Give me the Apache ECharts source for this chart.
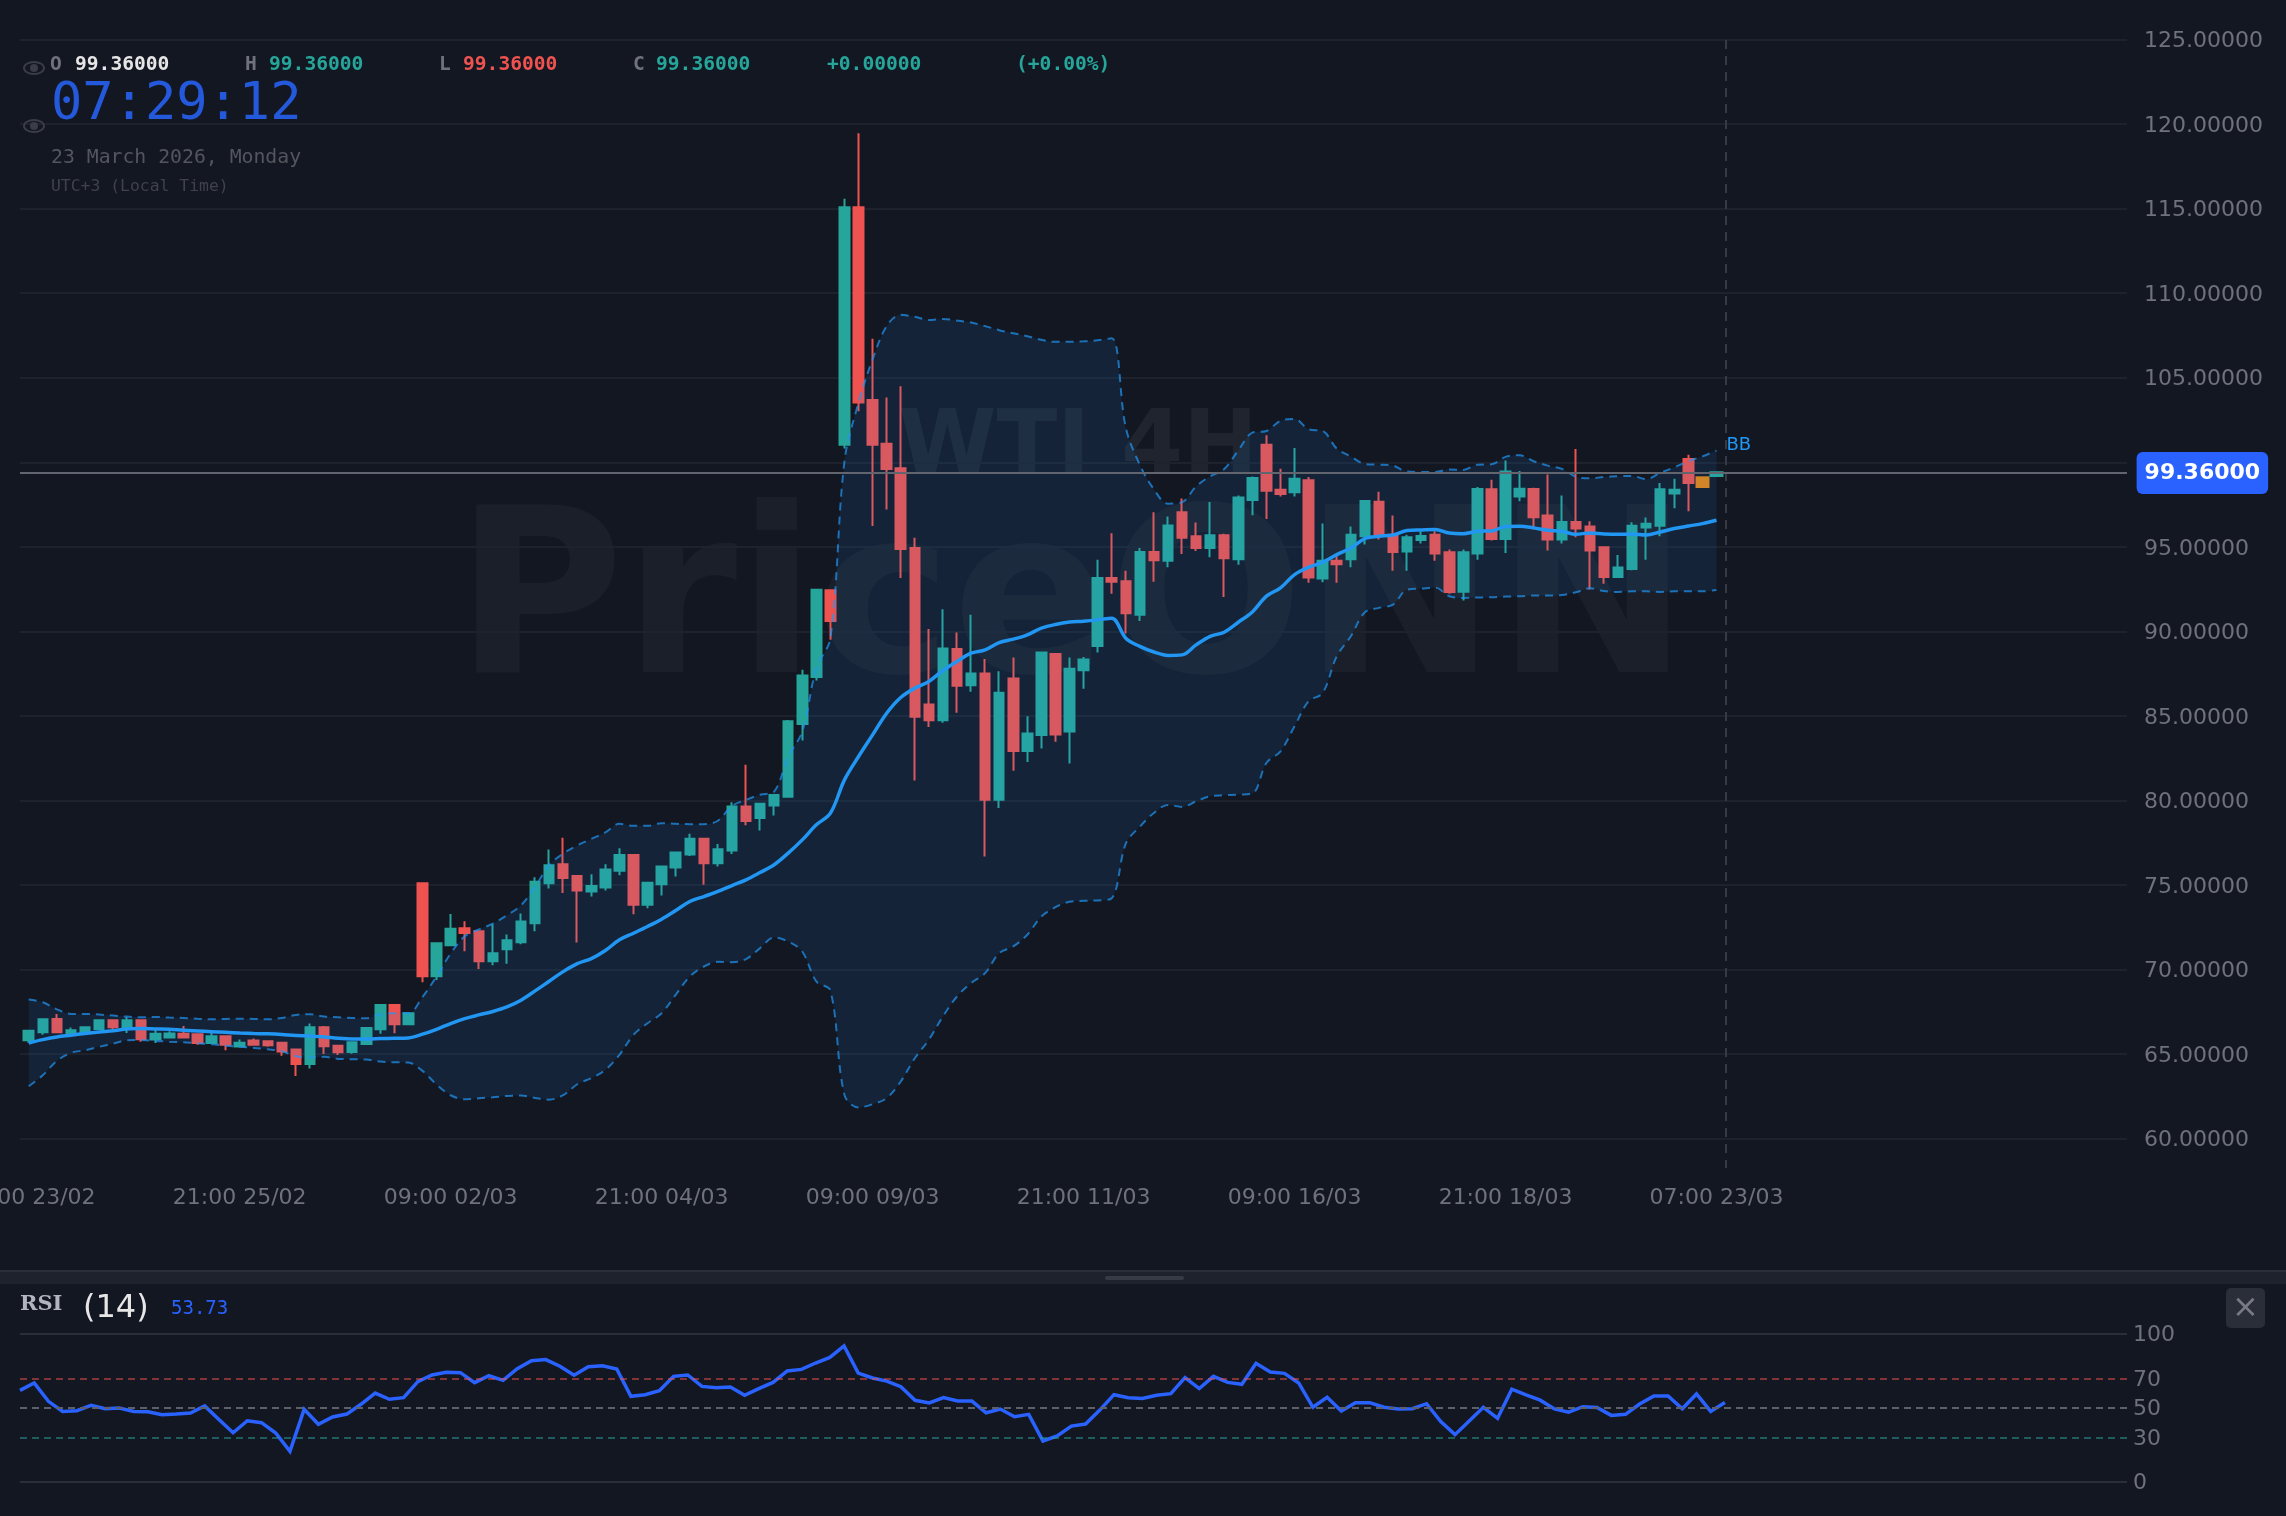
<!DOCTYPE html>
<html>
<head>
<meta charset="utf-8">
<title>WTI 4H</title>
<style>
html, body { margin: 0; padding: 0; background: #131722; }
#chart { width: 2286px; height: 1516px; }
</style>
<script src="https://cdn.jsdelivr.net/npm/echarts@6/dist/echarts.min.js"></script>
</head>
<body>
<div id="chart"></div>
<script>
var tickLabels = ['09:00 23/02','21:00 25/02','09:00 02/03','21:00 04/03','09:00 09/03','21:00 11/03','09:00 16/03','21:00 18/03','07:00 23/03'];

var candleOpen = [
  65.82,66.29,67.08,66.16,66.29,66.49,67.0,66.61,67.0,65.86,
  65.98,66.2,66.18,65.66,66.06,65.45,65.8,65.76,65.68,65.27,
  64.42,66.59,65.49,65.13,65.6,66.47,67.91,66.77,75.1,69.6,
  71.44,72.44,72.27,70.49,71.2,71.62,72.74,75.1,76.23,75.54,
  74.62,74.86,75.84,76.77,73.83,75.05,76.04,76.81,77.73,76.29,
  77.04,79.65,78.96,79.7,80.22,84.53,87.3,92.43,101.03,115.08,
  103.68,101.09,99.64,94.93,85.68,84.74,88.96,86.82,87.51,80.04,
  87.21,82.93,83.87,88.66,84.08,87.7,89.14,93.15,92.97,90.98,
  94.69,94.18,97.04,95.63,94.93,95.69,94.27,97.77,101.03,98.37,
  98.22,98.94,93.12,94.18,94.27,95.63,97.67,95.72,94.72,95.41,
  95.72,94.68,92.35,94.6,98.4,95.47,97.97,98.42,96.85,95.43,
  96.47,96.2,94.97,93.22,93.69,96.14,96.25,98.15,100.2,99.17,99.13];
var candleClose = [
  66.39,67.06,66.29,66.41,66.59,67.0,66.59,67.0,65.88,66.2,
  66.22,65.98,65.66,66.06,65.56,65.68,65.56,65.53,65.15,64.42,
  66.59,65.47,65.11,65.7,66.55,67.91,66.77,67.42,69.6,71.56,
  72.42,72.17,70.49,70.97,71.73,72.84,75.2,76.17,75.42,74.67,
  74.94,75.92,76.77,73.83,75.13,76.1,76.92,77.73,76.29,77.12,
  79.65,78.78,79.8,80.32,84.69,87.39,92.46,90.62,115.08,103.53,
  101.03,99.6,94.87,84.95,84.74,88.99,86.79,87.51,80.04,86.37,
  82.93,83.96,88.75,83.9,87.79,88.33,93.15,92.94,91.07,94.69,
  94.21,96.26,95.54,94.93,95.69,94.33,97.92,99.07,98.31,98.13,
  99.03,93.18,94.18,93.97,95.72,97.71,95.68,94.7,95.56,95.64,
  94.6,92.33,94.68,98.42,95.47,99.45,98.44,96.75,95.43,96.47,
  96.08,94.78,93.22,93.77,96.25,96.37,98.4,98.38,98.78,98.48,99.47];
var candleLow = [
  65.66,66.14,66.23,66.14,66.25,66.45,66.49,66.25,65.74,65.66,
  65.96,65.96,65.56,65.6,65.23,65.43,65.54,65.43,64.9,63.71,
  64.15,65.01,64.95,65.03,65.58,66.2,66.23,66.75,69.25,69.39,
  71.4,71.08,70.04,70.26,70.34,71.5,72.27,74.8,74.53,71.6,
  74.32,74.68,75.58,73.28,73.63,74.38,75.5,76.71,75.01,76.1,
  76.83,78.54,78.23,79.11,80.2,83.55,87.09,89.5,100.81,103.02,
  96.23,97.2,93.15,81.18,84.35,84.59,85.19,86.43,76.69,79.55,
  81.76,82.27,83.08,83.47,82.18,86.61,88.75,92.22,89.87,90.62,
  92.94,93.79,94.57,94.75,94.39,92.04,93.94,96.86,96.65,97.98,
  97.98,92.88,92.91,92.88,93.79,95.14,95.43,93.59,93.59,95.19,
  94.17,92.23,91.82,94.24,95.37,94.64,97.69,96.02,94.78,95.19,
  95.56,92.47,92.81,93.2,93.61,94.24,95.62,97.28,97.1,98.48,99.13];
var candleHigh = [
  66.39,67.06,67.38,66.57,66.6,67.05,67.02,67.2,67.02,66.51,
  66.35,66.67,66.2,66.31,66.1,65.86,65.92,65.78,65.74,65.29,
  66.81,66.67,65.51,65.74,66.57,67.93,67.93,67.47,75.1,71.6,
  73.29,72.86,72.3,72.68,72.07,73.31,75.46,77.1,77.8,75.56,
  75.64,76.23,77.18,76.8,75.15,76.13,76.95,78.03,77.75,77.42,
  79.9,82.11,79.85,80.36,84.76,87.73,92.52,92.46,115.59,119.45,
  107.3,103.83,104.49,95.54,90.14,91.31,89.93,90.98,88.36,87.64,
  88.45,84.98,88.78,88.69,88.45,88.48,94.24,95.81,93.58,94.93,
  97.04,96.8,97.86,96.44,97.65,95.78,98.04,99.16,101.6,99.61,
  100.84,99.13,96.38,94.48,96.2,97.77,98.25,96.85,95.72,95.92,
  95.92,94.84,94.84,98.54,98.97,100.1,99.49,98.5,99.27,98.03,
  100.79,96.51,95.03,94.52,96.45,96.73,98.78,99.03,100.45,99.17,99.47];

var bbUpper = [
  68.23,68.07,67.65,67.38,67.38,67.34,67.28,67.22,67.18,67.2,
  67.16,67.14,67.1,67.06,67.08,67.1,67.08,67.06,67.14,67.32,
  67.36,67.22,67.18,67.14,67.12,67.36,67.42,67.42,68.38,69.6,
  70.95,71.97,72.37,72.72,73.21,73.8,74.89,76.17,76.86,77.34,
  77.73,78.11,78.62,78.5,78.5,78.66,78.62,78.6,78.6,78.8,
  79.68,80.04,80.34,80.53,82.6,84.08,87.83,89.6,100.06,103.53,
  106.09,108.05,108.72,108.6,108.41,108.47,108.38,108.26,108.05,107.81,
  107.63,107.45,107.24,107.12,107.12,107.15,107.21,107.33,102.05,99.85,
  98.4,97.55,97.64,98.57,99.17,99.6,100.7,101.75,101.85,102.45,
  102.56,101.95,101.85,100.81,100.34,99.9,99.86,99.8,99.45,99.43,
  99.43,99.57,99.55,99.86,99.88,100.32,100.41,100.06,99.8,99.61,
  99.15,99.05,99.13,99.17,99.19,99.0,99.37,99.7,100.06,100.35,100.69];
var bbMiddle = [
  65.66,65.86,66.02,66.12,66.22,66.31,66.39,66.49,66.51,66.49,
  66.47,66.41,66.37,66.33,66.29,66.25,66.22,66.2,66.16,66.1,
  66.08,66.02,65.94,65.9,65.9,65.92,65.94,65.96,66.18,66.47,
  66.81,67.1,67.32,67.52,67.79,68.19,68.74,69.31,69.88,70.35,
  70.65,71.13,71.76,72.15,72.55,72.98,73.49,74.03,74.32,74.62,
  74.97,75.31,75.74,76.2,76.89,77.67,78.56,79.25,81.22,82.6,
  83.88,85.16,86.09,86.64,87.04,87.69,88.22,88.71,88.91,89.34,
  89.54,89.8,90.19,90.41,90.55,90.6,90.68,90.78,89.6,89.11,
  88.78,88.58,88.61,89.2,89.71,89.95,90.54,91.15,92.08,92.57,
  93.36,93.79,94.09,94.54,94.93,95.49,95.62,95.7,95.96,96.0,
  96.02,95.82,95.78,95.92,95.94,96.2,96.22,96.12,95.98,95.92,
  95.74,95.82,95.76,95.74,95.76,95.7,95.88,96.08,96.23,96.37,96.57];
var bbLower = [
  63.1,63.75,64.6,65.07,65.23,65.43,65.62,65.82,65.84,65.78,
  65.74,65.7,65.64,65.58,65.5,65.43,65.37,65.29,65.17,64.87,
  64.8,64.84,64.72,64.7,64.68,64.56,64.52,64.5,64.01,63.2,
  62.57,62.33,62.39,62.45,62.53,62.55,62.41,62.31,62.57,63.22,
  63.58,64.07,64.96,66.14,66.83,67.42,68.51,69.59,70.18,70.46,
  70.44,70.62,71.27,71.9,71.66,71.07,69.3,68.76,62.59,61.85,
  62.04,62.4,63.38,64.76,65.85,67.23,68.41,69.2,69.79,70.97,
  71.37,72.06,73.14,73.69,74.01,74.07,74.09,74.22,77.45,78.45,
  79.26,79.74,79.62,79.95,80.25,80.31,80.35,80.41,82.22,82.91,
  84.39,85.87,86.36,88.53,89.71,91.13,91.39,91.58,92.47,92.53,
  92.59,92.08,91.98,92.0,92.02,92.06,92.08,92.12,92.12,92.15,
  92.31,92.55,92.39,92.33,92.37,92.37,92.33,92.37,92.37,92.37,92.45];

var rsiValues = [
  61.9,66.9,54.5,47.7,48.2,51.8,49.5,50,47.7,47.5,
  45.5,45.9,46.6,51.4,42.3,33.3,41.4,40.1,33.1,20.7,
  49.1,39,43.9,45.9,52.5,60.1,55.9,57,67.8,72.3,
  74.1,73.9,67.1,71.8,68.7,76.6,82,82.7,78.2,72.1,
  77.9,78.6,76.4,57.9,59,61.7,71.4,72.3,64.6,63.7,
  64.2,58.6,63.1,67.3,75,76.1,80.4,84.2,91.9,73.6,
  70.3,68.2,64.4,55.2,53.4,57,54.7,54.7,46.8,49.3,
  44.1,45.7,27.7,31.1,37.8,39.2,48.6,59,57,56.5,
  58.6,59.7,70.5,63.1,71.4,67.3,66,80.2,74.3,73.4,
  66.9,50.5,57.2,48,53.6,53.6,50.5,49.3,49.5,52.9,
  40.8,32,41.2,50.5,43,62.7,58.8,55.3,49.4,47.2,
  50.9,50.4,45,45.7,52.7,58.1,58.1,49.5,59.5,47.7,53.73];

var rsiLevels = [100, 70, 50, 30, 0];
var lastPrice = 99.36;

var dom = document.getElementById('chart');
var myChart = echarts.init(dom);

var BG = '#131722', GRID = '#1e222d', MUTED = '#6f727b';
var SANS = '"DejaVu Sans", sans-serif', MONO = '"DejaVu Sans Mono", monospace';
var TEAL = '#26a69a', RED = '#ef5350';

// category axis: one band per candle, extra blank bands fill the space on the right
var BAND_COUNT = 150, LIVE_FROM = 119;
var categories = [];
for (var i = 0; i < BAND_COUNT; i++) {
  categories.push(i % 15 === 0 && i / 15 < tickLabels.length ? tickLabels[i / 15] : '');
}

var candles = candleOpen.map(function (o, i) {
  return [o, candleClose[i], candleLow[i], candleHigh[i]];
});
var bandWidth = bbUpper.map(function (u, i) { return +(u - bbLower[i]).toFixed(2); });
var rsiPoints = rsiValues.map(function (v, i) { return [i, v]; });

function text(str, x, y, font, fill, extra) {
  var style = { text: str, x: x, y: y, font: font, fill: fill, verticalAlign: 'middle' };
  for (var k in extra) style[k] = extra[k];
  return { type: 'text', silent: true, z: 10, style: style };
}
function eye(x, y) {
  return {
    type: 'group', x: x, y: y, silent: true,
    children: [
      { type: 'ellipse', z: 10, shape: { cx: 0, cy: 0, rx: 10, ry: 6 }, style: { fill: 'none', stroke: '#3a3d45', lineWidth: 2 } },
      { type: 'circle', z: 10, shape: { cx: 0, cy: 0, r: 4 }, style: { fill: '#3a3d45' } }
    ]
  };
}

var headerFont = 'bold 19.6px ' + MONO;
var graphics = [
  // watermark
  { type: 'text', silent: true, z: -1, style: { text: 'PriceONN', x: 1072, y: 612, align: 'center', verticalAlign: 'middle',
      font: 'bold 230px ' + SANS, fill: 'rgba(255,255,255,0.035)' } },
  { type: 'text', silent: true, z: -1, style: { text: 'WTI 4H', x: 1078, y: 450, align: 'center', verticalAlign: 'middle',
      font: 'bold 89px ' + SANS, fill: 'rgba(255,255,255,0.06)' } },
  // ohlc header
  text('O', 50, 64.5, headerFont, MUTED), text('99.36000', 75, 64.5, headerFont, '#e6e6e6'),
  text('H', 245, 64.5, headerFont, MUTED), text('99.36000', 269, 64.5, headerFont, TEAL),
  text('L', 439, 64.5, headerFont, MUTED), text('99.36000', 463, 64.5, headerFont, RED),
  text('C', 633, 64.5, headerFont, MUTED), text('99.36000', 656, 64.5, headerFont, TEAL),
  text('+0.00000', 827, 64.5, headerFont, TEAL),
  text('(+0.00%)', 1016, 64.5, headerFont, TEAL),
  eye(34, 68), eye(34, 126),
  text('07:29:12', 51, 105, '52px ' + MONO, '#2559dc'),
  text('23 March 2026, Monday', 51, 158, '19.8px ' + MONO, '#54565e'),
  text('UTC+3 (Local Time)', 51, 187, '16.4px ' + MONO, '#40424a'),
  // crosshair
  { type: 'line', silent: true, z: 4, shape: { x1: 1726, y1: 40, x2: 1726, y2: 1168 },
    style: { stroke: '#363a45', lineWidth: 2, lineDash: [9, 7] } },
  // pane divider
  { type: 'rect', silent: true, shape: { x: 0, y: 1270, width: 2286, height: 14 }, style: { fill: '#1e222d' } },
  { type: 'rect', silent: true, shape: { x: 0, y: 1270, width: 2286, height: 2 }, style: { fill: '#2a2e39' } },
  { type: 'rect', silent: true, z: 1, shape: { x: 1105, y: 1276, width: 79, height: 4, r: 2 }, style: { fill: '#363a45' } },
  // rsi header
  text('RSI', 20, 1305, 'bold 21px "DejaVu Serif", serif', '#b2b5be'),
  text('(14)', 83, 1308.5, '32px ' + SANS, '#e6e6e6'),
  text('53.73', 171, 1309.5, '19px ' + MONO, '#2962ff'),
  // close button
  { type: 'rect', silent: true, shape: { x: 2226, y: 1288, width: 39, height: 40, r: 5 }, style: { fill: '#2a2e39' } },
  text('\u00d7', 2245.5, 1309, '32px ' + SANS, '#787b86', { align: 'center' })
];

var bandLine = { width: 2, color: 'rgba(33,150,243,0.7)', type: [8, 6] };
var SMOOTH = 0.35;

option = {
  animation: false,
  backgroundColor: BG,
  graphic: graphics,
  grid: [
    { left: 20, top: 39.5, width: 2107, height: 1099.2, outerBoundsMode: 'none' },
    { left: 21.67, top: 39.5, width: 2109.75, height: 1099.2, outerBoundsMode: 'none' },
    { left: 20, top: 1334, width: 2107, height: 148, outerBoundsMode: 'none' }
  ],
  xAxis: [
    { type: 'value', gridIndex: 0, min: 0, max: 1, show: false },
    {
      type: 'category', gridIndex: 1, data: categories, boundaryGap: true,
      axisLine: { show: false }, axisTick: { show: false },
      axisLabel: { interval: 14, margin: 49, color: MUTED, fontFamily: SANS, fontSize: 22 }
    },
    { type: 'value', gridIndex: 2, min: 0, max: 148.3, show: false }
  ],
  yAxis: [
    {
      type: 'value', gridIndex: 0, position: 'right', min: 60, max: 125, interval: 5,
      axisLine: { show: false }, axisTick: { show: false },
      axisLabel: {
        margin: 17, color: MUTED, fontFamily: SANS, fontSize: 22, verticalAlign: 'top', lineHeight: 4,
        formatter: function (v) { return v.toFixed(5); }
      },
      splitLine: { lineStyle: { color: GRID, width: 2 } }
    },
    { type: 'value', gridIndex: 1, min: 60, max: 125, show: false },
    {
      type: 'value', gridIndex: 2, position: 'right', min: 0, max: 100,
      axisLine: { show: false }, axisTick: { show: false },
      axisLabel: { customValues: rsiLevels, margin: 6, color: MUTED, fontFamily: SANS, fontSize: 22, verticalAlign: 'top', lineHeight: 3 },
      splitLine: { show: false }
    }
  ],
  series: [
    {
      name: 'Candles', type: 'candlestick', xAxisIndex: 1, yAxisIndex: 1, z: 2,
      barWidth: 10,
      data: candles.slice(0, LIVE_FROM),
      itemStyle: { color: TEAL, color0: RED, borderColor: TEAL, borderColor0: RED, borderWidth: 2 }
    },
    {
      name: 'Live', type: 'candlestick', xAxisIndex: 1, yAxisIndex: 1, z: 2,
      barWidth: 14,
      data: candles.map(function (c, i) {
        if (i < LIVE_FROM) return ['-', '-', '-', '-'];
        return i === LIVE_FROM
          ? { value: c, itemStyle: { color0: '#e78312', borderColor0: '#e78312', color: '#e78312', borderColor: '#e78312' } }
          : c;
      }),
      itemStyle: { color: TEAL, color0: RED, borderColor: TEAL, borderColor0: RED, borderWidth: 0 }
    },
    {
      name: 'BB base', type: 'line', xAxisIndex: 1, yAxisIndex: 1, z: 3, stack: 'bb', smooth: SMOOTH,
      showSymbol: false, silent: true, lineStyle: { opacity: 0 }, data: bbLower
    },
    {
      name: 'BB fill', type: 'line', xAxisIndex: 1, yAxisIndex: 1, z: 3, stack: 'bb', smooth: SMOOTH,
      showSymbol: false, silent: true, lineStyle: { opacity: 0 },
      areaStyle: { color: 'rgba(33,150,243,0.1)', opacity: 1 }, data: bandWidth
    },
    {
      name: 'BB upper', type: 'line', xAxisIndex: 1, yAxisIndex: 1, z: 4, smooth: SMOOTH, showSymbol: false,
      lineStyle: bandLine, data: bbUpper,
      endLabel: { show: true, formatter: 'BB', color: '#2196f3', fontFamily: SANS, fontSize: 18, distance: 10, offset: [0, -5] }
    },
    {
      name: 'BB lower', type: 'line', xAxisIndex: 1, yAxisIndex: 1, z: 4, smooth: SMOOTH, showSymbol: false,
      lineStyle: bandLine, data: bbLower
    },
    {
      name: 'BB middle', type: 'line', xAxisIndex: 1, yAxisIndex: 1, z: 4, smooth: SMOOTH, showSymbol: false,
      lineStyle: { width: 3.5, color: '#2196f3' }, data: bbMiddle
    },
    {
      name: 'Last price', type: 'line', xAxisIndex: 0, yAxisIndex: 0, z: 5, showSymbol: false, silent: true,
      lineStyle: { width: 2, color: '#62656d' },
      data: [[0, lastPrice], [1, lastPrice]],
      endLabel: {
        show: true, distance: 9.6, formatter: lastPrice.toFixed(5),
        color: '#fff', fontFamily: SANS, fontWeight: 'bold', fontSize: 22, lineHeight: 22,
        backgroundColor: '#2962ff', borderRadius: 6, padding: [12, 8, 8, 8]
      }
    },
    {
      name: 'RSI', type: 'line', xAxisIndex: 2, yAxisIndex: 2, z: 4, showSymbol: false,
      lineStyle: { width: 3.5, color: '#2962ff', join: 'miter' }, data: rsiPoints,
      markLine: {
        silent: true, symbol: 'none', label: { show: false }, animation: false,
        data: [
          { yAxis: 100, lineStyle: { color: '#2a2e39', width: 2, type: 'solid' } },
          { yAxis: 70, lineStyle: { color: 'rgba(239,83,80,0.5)', width: 2, type: [7, 5] } },
          { yAxis: 50, lineStyle: { color: '#5d6069', width: 2, type: [7, 5] } },
          { yAxis: 30, lineStyle: { color: 'rgba(38,166,154,0.5)', width: 2, type: [7, 5] } },
          { yAxis: 0, lineStyle: { color: '#2a2e39', width: 2, type: 'solid' } }
        ]
      }
    }
  ]
};

if (option && typeof option === 'object') {
  myChart.setOption(option, true);
}
</script>
</body>
</html>
